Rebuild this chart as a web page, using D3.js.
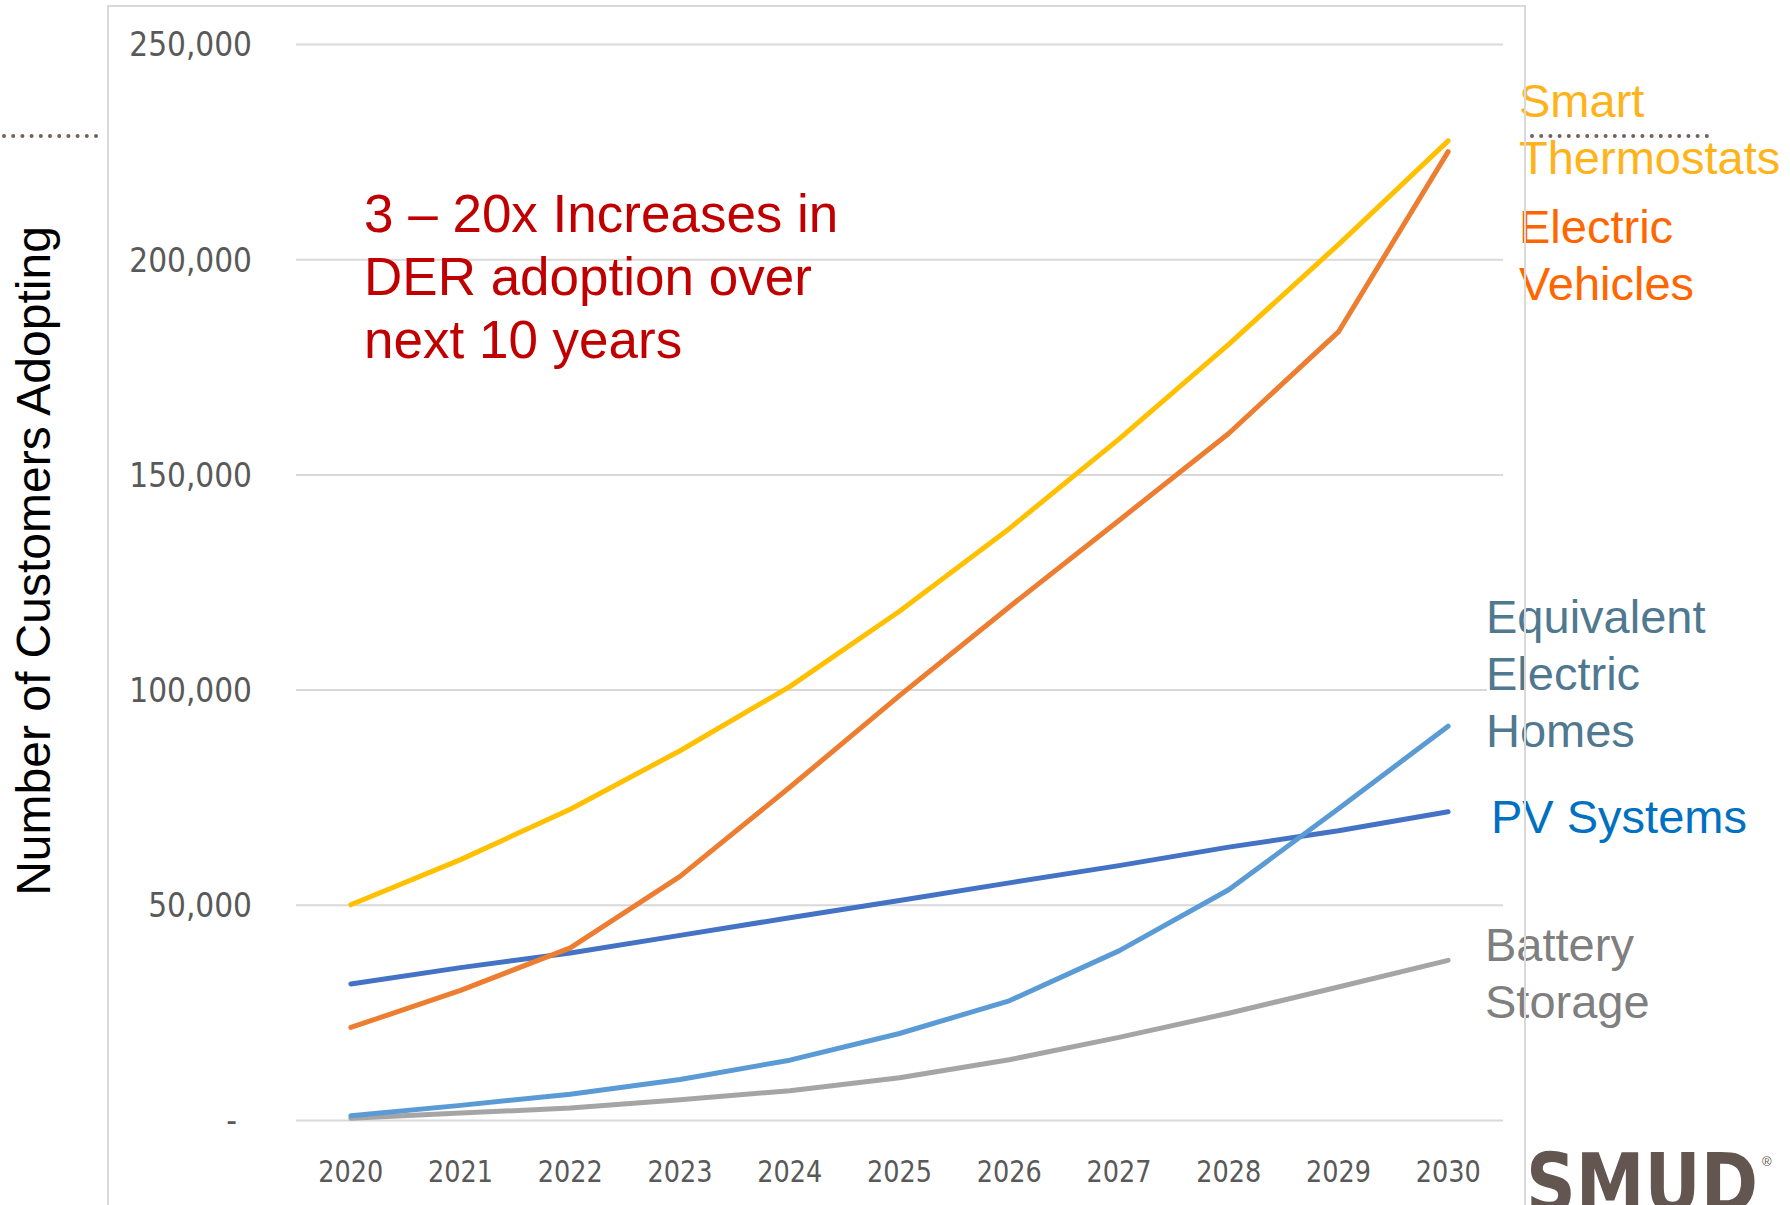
<!DOCTYPE html>
<html>
<head>
<meta charset="utf-8">
<script src="https://cdn.jsdelivr.net/npm/d3@7"></script>
<style>
  body { margin: 0; background: #fff; }
  svg { display: block; }
</style>
</head>
<body>
<div id="chart"></div>
<script>
// DER adoption forecast
var years = ["2020","2021","2022","2023","2024","2025","2026","2027","2028","2029","2030"];
var smartThermostats = [50000, 60500, 72200, 85800, 100700, 118200, 137400, 158200, 180200, 203400, 227500];
var electricVehicles = [21500, 30100, 40000, 56600, 77300, 98600, 119200, 139300, 159500, 183100, 225000];
var pvSystems = [31600, 35400, 38800, 42900, 47000, 51000, 55100, 59100, 63400, 67200, 71600];
var electricHomes = [1000, 3400, 6000, 9400, 13900, 20100, 27700, 39300, 53500, 72300, 91500];
var batteryStorage = [400, 1600, 2800, 4700, 6800, 9800, 14000, 19200, 24800, 30900, 37100];
var yTicks = [0, 50000, 100000, 150000, 200000, 250000];

var W = 1790, H = 1205;
var arial = "'Liberation Sans', Arial, sans-serif";
var narrow = "'DejaVu Sans Condensed', 'Liberation Sans Narrow', sans-serif";

var svg = d3.select("#chart").append("svg")
  .attr("width", W)
  .attr("height", H);

//scales
var x = d3.scaleBand().domain(years).range([296, 1503]).padding(0);
var y = d3.scaleLinear().domain([0, 250000]).range([1120, 44]);
var cx = function (d) { return x(d) + x.bandwidth() / 2; };

//gridlines + y labels
var yAxis = svg.append("g")
  .attr("transform", "translate(296,0)")
  .call(d3.axisLeft(y)
    .tickValues(yTicks)
    .tickSize(-(1503 - 296))
    .tickPadding(44)
    .tickFormat(function (d) { return d === 0 ? "-" : d3.format(",")(d); }));
yAxis.select(".domain").remove();
yAxis.selectAll(".tick line").attr("stroke", "#d9d9d9").attr("stroke-width", 2);
yAxis.selectAll(".tick text")
  .attr("fill", "#595959")
  .style("font-family", narrow)
  .style("font-size", "33px")
  .attr("dy", "0.36em");
yAxis.selectAll(".tick text").filter(function (d) { return d === 0; })
  .attr("x", -59);

//x labels
var xAxis = svg.append("g")
  .attr("transform", "translate(0,1120)")
  .call(d3.axisBottom(x).tickSize(0).tickPadding(0));
xAxis.select(".domain").remove();
xAxis.selectAll(".tick text")
  .attr("y", 62)
  .attr("dy", 0)
  .attr("fill", "#595959")
  .style("font-family", narrow)
  .style("font-size", "31px")
  .attr("textLength", 65)
  .attr("lengthAdjust", "spacingAndGlyphs");

//white box behind the homes label (covers grid end like the slide)
svg.append("rect")
  .attr("x", 1487).attr("y", 590)
  .attr("width", 230).attr("height", 170)
  .attr("fill", "#fff");

//lines
var series = [
  { name: "Battery Storage", values: batteryStorage, color: "#a5a5a5" },
  { name: "PV Systems", values: pvSystems, color: "#4472c4" },
  { name: "Equivalent Electric Homes", values: electricHomes, color: "#5b9bd5" },
  { name: "Electric Vehicles", values: electricVehicles, color: "#ed7d31" },
  { name: "Smart Thermostats", values: smartThermostats, color: "#ffc000" }
];

var line = d3.line()
  .x(function (d, i) { return cx(years[i]); })
  .y(function (d) { return y(d); });

svg.selectAll(".series")
  .data(series)
  .enter().append("path")
  .attr("class", "series")
  .attr("d", function (s) { return line(s.values); })
  .attr("fill", "none")
  .attr("stroke", function (s) { return s.color; })
  .attr("stroke-width", 5)
  .attr("stroke-linejoin", "round")
  .attr("stroke-linecap", "round");

//y title
svg.append("text")
  .attr("transform", "translate(50,561) rotate(-90)")
  .attr("text-anchor", "middle")
  .attr("fill", "#000")
  .style("font-family", arial)
  .style("font-size", "48px")
  .text("Number of Customers Adopting");

//red callout
var callout = ["3 \u2013 20x Increases in", "DER adoption over", "next 10 years"];
svg.append("g").selectAll("text")
  .data(callout)
  .enter().append("text")
  .attr("x", 364)
  .attr("y", function (d, i) { return 232 + i * 63; })
  .attr("fill", "#c00000")
  .style("font-family", arial)
  .style("font-size", "53px")
  .text(function (d) { return d; });

//series labels on the right
var labels = [
  { lines: ["Smart", "Thermostats"], x: 1519, y: 117, color: "#ffb31a" },
  { lines: ["Electric", "Vehicles"], x: 1519, y: 243, color: "#ff6600" },
  { lines: ["Equivalent", "Electric", "Homes"], x: 1486, y: 633, color: "#50788f" },
  { lines: ["PV Systems"], x: 1491, y: 833, color: "#0070c0" },
  { lines: ["Battery", "Storage"], x: 1485, y: 961, color: "#7f7f7f" }
];
labels.forEach(function (l) {
  svg.append("g").selectAll("text")
    .data(l.lines)
    .enter().append("text")
    .attr("x", l.x)
    .attr("y", function (d, i) { return l.y + i * 57; })
    .attr("fill", l.color)
    .style("font-family", arial)
    .style("font-size", "47px")
    .text(function (d) { return d; });
});

//dotted guide lines
[[0, 104], [1528, 1707]].forEach(function (seg) {
  svg.append("line")
    .attr("x1", seg[0] + 4).attr("x2", seg[1])
    .attr("y1", 136).attr("y2", 136)
    .attr("stroke", "#6e625b")
    .attr("stroke-width", 4)
    .attr("stroke-dasharray", "0 9.2")
    .attr("stroke-linecap", "round");
});

//chart frame
svg.append("path")
  .attr("d", "M108," + H + "V6H1525V" + H)
  .attr("fill", "none")
  .attr("stroke", "#d9d9d9")
  .attr("stroke-width", 2);

//logo
svg.append("text")
  .attr("x", 1526)
  .attr("y", 1212)
  .attr("textLength", 232)
  .attr("lengthAdjust", "spacingAndGlyphs")
  .attr("fill", "#63554f")
  .style("font-family", "'DejaVu Sans', sans-serif")
  .style("font-weight", "bold")
  .style("font-size", "82px")
  .text("SMUD");
svg.append("text")
  .attr("x", 1762)
  .attr("y", 1166)
  .attr("fill", "#63554f")
  .style("font-family", arial)
  .style("font-size", "13px")
  .text("\u00ae");
</script>
</body>
</html>
